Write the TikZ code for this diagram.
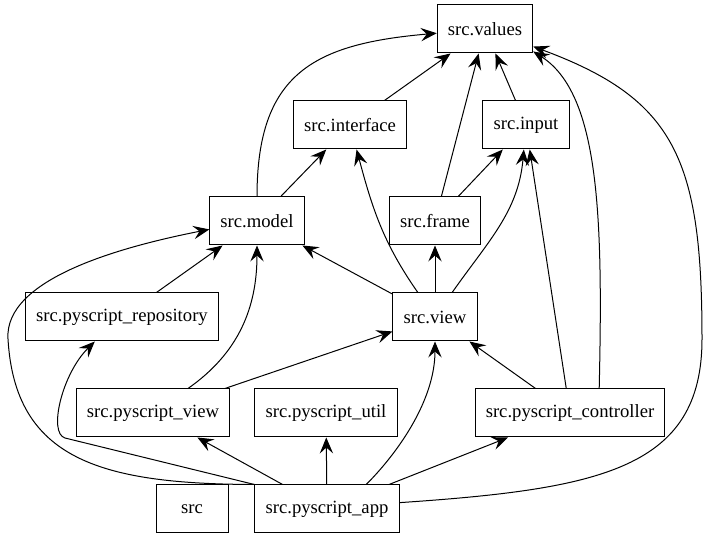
\documentclass[tikz,border=0pt]{standalone}
\usepackage{fontspec}
\setmainfont{Liberation Serif}
\usepackage{tikz}
\usetikzlibrary{arrows.meta}
\tikzset{
    module/.style={rectangle, draw=black, line width=0.75pt, fill=white, minimum width=54pt, minimum height=36pt, inner xsep=8pt, font=\rmfamily\fontsize{14}{16}\selectfont},
    dep/.style={-{Stealth[length=12pt, width=10pt, inset=4.5pt]}, line width=0.75pt}
}

\begin{document}
\begin{tikzpicture}[x=0.75pt, y=0.75pt]
    \useasboundingbox (0,0) rectangle (711,539);

    % Modules
    \node[module] (Values) at (485,510) {src.values};
    \node[module] (Interface) at (350,414) {src.interface};
    \node[module] (Input) at (526,414) {src.input};
    \node[module] (Model) at (257,318) {src.model};
    \node[module] (Frame) at (435,318) {src.frame};
    \node[module] (Repo) at (122,222) {src.pyscript\_repository};
    \node[module] (View) at (435,222) {src.view};
    \node[module] (PyView) at (153,126) {src.pyscript\_view};
    \node[module] (PyUtil) at (326,126) {src.pyscript\_util};
    \node[module] (PyCtrl) at (570,126) {src.pyscript\_controller};
    \node[module] (Src) at (192,30) {src};
    \node[module] (PyApp) at (327,30) {src.pyscript\_app};

    % Imports of src.values
    \draw[dep] (Interface) -- (Values);
    \draw[dep] (Input) -- (Values);
    \draw[dep] (Frame) -- (Values);
    \draw[dep] (Model) to[out=90, in=185, looseness=1.3] (Values);
    \draw[dep] (PyCtrl.40) .. controls (603,320) and (600,445) .. (Values.-25);
    \draw[dep] (PyApp.5) .. controls (600,50) and (702,70) .. (702,200) .. controls (702,380) and (675,440) .. (Values.-20);

    % Imports of interface, input, model, frame
    \draw[dep] (Model) -- (Interface);
    \draw[dep] (View) to[out=125, in=-75] (Interface);
    \draw[dep] (Frame) -- (Input);
    \draw[dep] (View) to[out=55, in=-95] (Input);
    \draw[dep] (PyCtrl) -- (Input);
    \draw[dep] (Repo) -- (Model);
    \draw[dep] (View) -- (Model);
    \draw[dep] (PyView) to[out=35, in=-90] (Model);
    \draw[dep] (PyApp.north west) .. controls (100,55) and (15,80) .. (8,200) .. controls (4,260) and (120,292) .. (Model.190);
    \draw[dep] (View) -- (Frame);

    % Imports of src.view
    \draw[dep] (PyView) -- (View);
    \draw[dep] (PyCtrl) -- (View);
    \draw[dep] (PyApp.32) .. controls +(30,30) and +(0,-60) .. (View.south);

    % Imports of src.pyscript_app
    \draw[dep] (PyApp) -- (PyView);
    \draw[dep] (PyApp) -- (PyUtil);
    \draw[dep] (PyApp) -- (PyCtrl);
    \draw[dep] (PyApp.north west) -- (65,101) .. controls (48,106) and (62,165) .. (Repo.-138);
\end{tikzpicture}
\end{document}
